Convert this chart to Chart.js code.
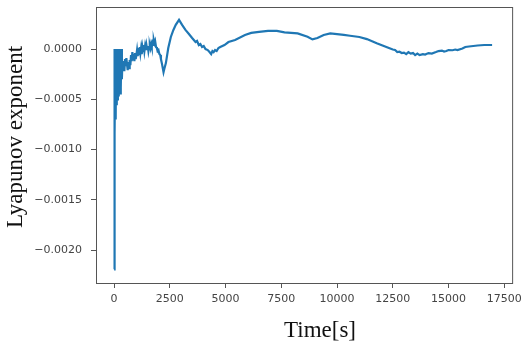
<!DOCTYPE html>
<html>
<head>
<meta charset="utf-8">
<script src="https://cdn.jsdelivr.net/npm/chart.js@4/dist/chart.umd.min.js"></script>
<style>
    html, body { margin: 0; padding: 0; background: #fff; }
    #wrap { width: 527px; height: 349px; }
</style>
</head>
<body>
<div id="wrap"><canvas id="lyap"></canvas></div>
<script>
// Data (rows of 10 kept aligned between the two arrays)
const times = [
    0, 8, 16, 24, 40, 56, 72, 90, 110, 130,
    150, 170, 190, 210, 230, 250, 270, 290, 310, 330,
    350, 370, 400, 430, 460, 490, 520, 550, 580, 610,
    640, 670, 700, 730, 760, 790, 820, 850, 880, 910,
    940, 970, 1000, 1030, 1060, 1090, 1120, 1150, 1180, 1210,
    1240, 1270, 1300, 1330, 1360, 1390, 1420, 1450, 1480, 1510,
    1540, 1570, 1600, 1630, 1660, 1690, 1720, 1750, 1780, 1810,
    1840, 1880, 1920, 1951, 1990, 2030, 2070, 2101, 2150, 2217,
    2260, 2323, 2430, 2545, 2660, 2766, 2913, 3050, 3200, 3356,
    3500, 3653, 3720, 3800, 3870, 3945, 4020, 4100, 4200, 4280,
    4353, 4410, 4464, 4530, 4600, 4680, 4761, 4950, 5129, 5426,
    5870, 6149, 6500, 6903, 7300, 7643, 8232, 8676, 8897, 9119,
    9400, 9695, 10302, 10582, 11000, 11336, 11779, 12355, 12500, 12600,
    12700, 12798, 12900, 13000, 13100, 13200, 13300, 13406, 13500, 13600,
    13700, 13849, 13950, 14100, 14250, 14435, 14550, 14700, 14800, 14900,
    15000, 15179, 15300, 15400, 15622, 15750, 15915, 16300, 16600, 16952
];
const exponents = [
    -0.00219, 0, -0.00107, 0, -0.00085, 0, -0.0007, 0, -0.00056, 0,
    -0.0005, -0.00002, -0.00046, 0, -0.00042, 0, -0.00044, 0, -0.00038, 0,
    -0.0003, -0.00014, -0.00019, -0.00012, -0.00022, -0.0001, -0.00017, -0.00009, -0.00015, -0.00021,
    -0.00013, -0.00019, -0.00011, -0.00016, -0.00006, -0.00012, -0.00003, -0.0001, -0.00005, -0.00012,
    -0.00004, -0.0001, -0.00006, -0.00001, -0.00007, 0.00001, -0.00005, 0.00002, -0.00004, 0.00001,
    -0.00005, 0.00002, -0.00002, 0.00004, -0.00002, 0.00003, -0.00001, 0.00004, 0, 0.00003,
    -0.00002, 0.00002, 0.00004, 0.00001, 0.00005, 0.00002, 0.00006, 0.00004, 0.00009, 0.00006,
    0.00008, 0.00002, 0.00001, -0.00002, -0.00001, -0.00005, -0.00006, -0.0001, -0.00015, -0.00023,
    -0.00019, -0.00014, 0.00001, 0.00012, 0.00019, 0.00024, 0.00029, 0.00024, 0.00019, 0.00015,
    0.00011, 0.00007, 0.00008, 0.00004, 0.00005, 0.00002, 0.00003, 0, -0.00001, -0.00003,
    -0.00005, -0.00002, -0.00003, -0.00001, -0.00002, 0.00001, 0.00002, 0.00004, 0.00007, 0.00009,
    0.00014, 0.00016, 0.00017, 0.00018, 0.00018, 0.000166, 0.000156, 0.000122, 0.000096, 0.000109,
    0.00014, 0.000156, 0.00014, 0.000132, 0.00012, 0.000099, 0.000057, 0.000007, -0.000005, -0.00001,
    -0.00003, -0.000027, -0.00004, -0.000035, -0.00005, -0.00003, -0.000045, -0.00004, -0.00006, -0.000045,
    -0.00006, -0.00005, -0.000055, -0.00004, -0.000045, -0.00003, -0.00002, -0.000015, -0.000025, -0.00002,
    -0.00001, -0.000012, -0.000005, -0.00001, 0.000005, 0.00002, 0.000025, 0.000035, 0.00004, 0.00004
];
const xTicks = [0, 2500, 5000, 7500, 10000, 12500, 15000, 17500];
const yTicks = [-0.002, -0.0015, -0.001, -0.0005, 0];
const xLabel = "Time[s]";
const yLabel = "Lyapunov exponent";

const axisColor = "#555";
const tickFont = { family: "'DejaVu Sans'", size: 11 };

// frame around the plot + serif axis titles
const framePlugin = {
    id: "frame",
    afterDraw(chart) {
        const { ctx, chartArea: a } = chart;
        ctx.save();
        ctx.strokeStyle = axisColor;
        ctx.lineWidth = 1;
        ctx.strokeRect(a.left + 0.5, a.top + 0.5, a.right - a.left, a.bottom - a.top);

        ctx.fillStyle = "#111";
        ctx.font = "23px 'Liberation Serif'";
        ctx.textAlign = "center";
        ctx.textBaseline = "middle";
        ctx.fillText(xLabel, 320, 331);
        ctx.translate(16, 137);
        ctx.rotate(-Math.PI / 2);
        ctx.fillText(yLabel, 0, 0);
        ctx.restore();
    }
};

function fmtY(v) {
    const s = Math.abs(v).toFixed(4);
    return v < -1e-12 ? "\u2212" + s : s;
}

document.addEventListener("DOMContentLoaded", () => {
    const ctx = document.getElementById("lyap").getContext("2d");
    new Chart(ctx, {
        type: "line",
        data: {
            datasets: [{
                data: times.map((t, i) => ({ x: t, y: exponents[i] })),
                borderColor: "#1f77b4",
                borderWidth: 2.2,
                pointRadius: 0,
                tension: 0,
                fill: false,
            }]
        },
        options: {
            responsive: true,
            maintainAspectRatio: false,
            animation: false,
            events: [],
            layout: { padding: { top: 7, right: 10, left: 0, bottom: 0 } },
            plugins: { legend: { display: false }, tooltip: { enabled: false } },
            scales: {
                x: {
                    type: "linear",
                    min: -811,
                    max: 17850,
                    afterBuildTicks: s => { s.ticks = xTicks.map(v => ({ value: v })); },
                    afterFit: s => { s.height = 66; },
                    grid: { drawOnChartArea: false, tickLength: 5, tickColor: axisColor },
                    border: { display: false },
                    ticks: {
                        color: "#444",
                        font: tickFont,
                        padding: 5,
                        maxRotation: 0,
                        autoSkip: false,
                        callback: v => String(v),
                    },
                },
                y: {
                    type: "linear",
                    min: -0.002326,
                    max: 0.000418,
                    afterBuildTicks: s => { s.ticks = yTicks.map(v => ({ value: v })); },
                    // fixed width, and no extra label padding above/below the plot
                    afterFit: s => { s.width = 96; s.paddingTop = 0; s.paddingBottom = 0; },
                    grid: { drawOnChartArea: false, tickLength: 5, tickColor: axisColor },
                    border: { display: false },
                    ticks: {
                        color: "#444",
                        font: tickFont,
                        padding: 9,
                        autoSkip: false,
                        callback: v => fmtY(v),
                    },
                },
            },
        },
        plugins: [framePlugin],
    });
});
</script>
</body>
</html>
